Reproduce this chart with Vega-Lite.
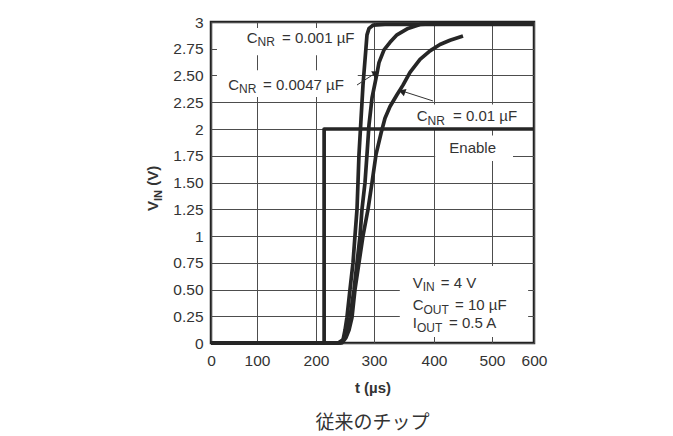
{
  "$schema": "https://vega.github.io/schema/vega-lite/v6.json",
  "width": 323,
  "height": 321,
  "autosize": {"type": "none"},
  "padding": {"left": 211, "top": 22, "right": 139, "bottom": 93},
  "background": "white",
  "config": {
    "font": "Liberation Sans",
    "view": {"stroke": "#222", "strokeWidth": 2.5},
    "axis": {
      "domain": false, "ticks": false, "tickSize": 0, "grid": true,
      "gridColor": "#4d4d4d", "gridWidth": 1, "gridOpacity": 1, "labelOverlap": false,
      "labelFont": "Liberation Sans", "labelFontSize": 15.5, "labelColor": "#333",
      "titleFont": "Liberation Sans", "titleFontSize": 15, "titleColor": "#333", "titleFontWeight": "bold"
    }
  },
  "title": {"text": "従来のチップ", "orient": "bottom", "anchor": "middle", "frame": "group", "font": "Noto Sans CJK JP", "fontSize": 19, "fontWeight": "normal", "color": "#333", "offset": 18},
  "encoding": {
    "x": {"field": "t", "type": "quantitative",
          "scale": {"domain": [0, 100, 200, 300, 400, 500, 600], "range": [0, 46, 105, 163, 223, 281, 323], "nice": false, "zero": false},
          "axis": {"values": [0, 100, 200, 300, 400, 500, 600], "title": "t (µs)", "labelPadding": 10, "titlePadding": 12, "labelFlush": false}},
    "y": {"field": "v", "type": "quantitative",
          "scale": {"domain": [0, 3], "nice": false, "zero": false},
          "axis": {"values": [0, 0.25, 0.5, 0.75, 1, 1.25, 1.5, 1.75, 2, 2.25, 2.5, 2.75, 3], "title": null, "labelPadding": 8,
                   "labelExpr": "datum.value % 1 == 0 ? format(datum.value, 'd') : format(datum.value, '.2f')"}}
  },
  "datasets": {
    "boxes": [
      {"t": 13, "t2": 284, "v": 2.69, "v2": 2.944},
      {"t": 13, "t2": 272, "v": 2.30, "v2": 2.55},
      {"t": 352, "t2": 586, "v": 2.01, "v2": 2.23},
      {"t": 402, "t2": 550, "v": 1.70, "v2": 1.94},
      {"t": 343, "t2": 586, "v": 0.056, "v2": 0.72}
    ],
    "lines": [
      {"series": "Enable", "i": 0, "t": 0, "v": 0},
      {"series": "Enable", "i": 1, "t": 214, "v": 0},
      {"series": "Enable", "i": 2, "t": 214, "v": 2},
      {"series": "Enable", "i": 3, "t": 600, "v": 2},
      {"series": "0.001", "i": 0, "t": 0, "v": 0},
      {"series": "0.001", "i": 1, "t": 237.9, "v": 0},
      {"series": "0.001", "i": 2, "t": 246.6, "v": 0.03},
      {"series": "0.001", "i": 3, "t": 250, "v": 0.12},
      {"series": "0.001", "i": 4, "t": 253.4, "v": 0.24},
      {"series": "0.001", "i": 5, "t": 258.6, "v": 0.5},
      {"series": "0.001", "i": 6, "t": 263.8, "v": 0.75},
      {"series": "0.001", "i": 7, "t": 267.2, "v": 1.0},
      {"series": "0.001", "i": 8, "t": 270.7, "v": 1.25},
      {"series": "0.001", "i": 9, "t": 272.4, "v": 1.5},
      {"series": "0.001", "i": 10, "t": 274.1, "v": 1.76},
      {"series": "0.001", "i": 11, "t": 277.6, "v": 2.09},
      {"series": "0.001", "i": 12, "t": 281.0, "v": 2.41},
      {"series": "0.001", "i": 13, "t": 286.2, "v": 2.76},
      {"series": "0.001", "i": 14, "t": 287.9, "v": 2.88},
      {"series": "0.001", "i": 15, "t": 291.4, "v": 2.94},
      {"series": "0.001", "i": 16, "t": 298.3, "v": 2.97},
      {"series": "0.001", "i": 17, "t": 318.3, "v": 2.977},
      {"series": "0.001", "i": 18, "t": 600, "v": 2.977},
      {"series": "0.0047", "i": 0, "t": 0, "v": 0},
      {"series": "0.0047", "i": 1, "t": 241.4, "v": 0},
      {"series": "0.0047", "i": 2, "t": 250, "v": 0.05},
      {"series": "0.0047", "i": 3, "t": 258.6, "v": 0.24},
      {"series": "0.0047", "i": 4, "t": 265.5, "v": 0.5},
      {"series": "0.0047", "i": 5, "t": 270.7, "v": 0.75},
      {"series": "0.0047", "i": 6, "t": 275.9, "v": 1.0},
      {"series": "0.0047", "i": 7, "t": 279.3, "v": 1.25},
      {"series": "0.0047", "i": 8, "t": 284.5, "v": 1.5},
      {"series": "0.0047", "i": 9, "t": 287.9, "v": 1.76},
      {"series": "0.0047", "i": 10, "t": 291.4, "v": 2.04},
      {"series": "0.0047", "i": 11, "t": 296.6, "v": 2.29},
      {"series": "0.0047", "i": 12, "t": 305, "v": 2.52},
      {"series": "0.0047", "i": 13, "t": 308.3, "v": 2.62},
      {"series": "0.0047", "i": 14, "t": 316.7, "v": 2.74},
      {"series": "0.0047", "i": 15, "t": 326.7, "v": 2.81},
      {"series": "0.0047", "i": 16, "t": 338.3, "v": 2.88},
      {"series": "0.0047", "i": 17, "t": 356.7, "v": 2.94},
      {"series": "0.0047", "i": 18, "t": 376.7, "v": 2.977},
      {"series": "0.0047", "i": 19, "t": 410.3, "v": 2.986},
      {"series": "0.0047", "i": 20, "t": 600, "v": 2.986},
      {"series": "0.01", "i": 0, "t": 0, "v": 0},
      {"series": "0.01", "i": 1, "t": 244.8, "v": 0},
      {"series": "0.01", "i": 2, "t": 251.7, "v": 0.05},
      {"series": "0.01", "i": 3, "t": 256.9, "v": 0.12},
      {"series": "0.01", "i": 4, "t": 262.1, "v": 0.24},
      {"series": "0.01", "i": 5, "t": 267.2, "v": 0.5},
      {"series": "0.01", "i": 6, "t": 274.1, "v": 0.75},
      {"series": "0.01", "i": 7, "t": 281.0, "v": 1.0},
      {"series": "0.01", "i": 8, "t": 289.7, "v": 1.25},
      {"series": "0.01", "i": 9, "t": 296.6, "v": 1.5},
      {"series": "0.01", "i": 10, "t": 303.3, "v": 1.76},
      {"series": "0.01", "i": 11, "t": 311.7, "v": 1.96},
      {"series": "0.01", "i": 12, "t": 318.3, "v": 2.10},
      {"series": "0.01", "i": 13, "t": 326.7, "v": 2.21},
      {"series": "0.01", "i": 14, "t": 338.3, "v": 2.32},
      {"series": "0.01", "i": 15, "t": 348.3, "v": 2.41},
      {"series": "0.01", "i": 16, "t": 360, "v": 2.53},
      {"series": "0.01", "i": 17, "t": 376.7, "v": 2.65},
      {"series": "0.01", "i": 18, "t": 393.3, "v": 2.73},
      {"series": "0.01", "i": 19, "t": 410.3, "v": 2.79},
      {"series": "0.01", "i": 20, "t": 427.6, "v": 2.83},
      {"series": "0.01", "i": 21, "t": 450, "v": 2.87}
    ],
    "arrows": [
      {"series": "a1", "i": 0, "t": 270.7, "v": 2.411},
      {"series": "a1", "i": 1, "t": 300, "v": 2.514},
      {"series": "a2", "i": 0, "t": 398.3, "v": 2.262},
      {"series": "a2", "i": 1, "t": 351.7, "v": 2.346}
    ],
    "textMain": [
      {"t": 77.6, "v": 2.808, "s": "C"},
      {"t": 142.4, "v": 2.808, "s": "= 0.001 µF"},
      {"t": 37.6, "v": 2.367, "s": "C"},
      {"t": 110.2, "v": 2.367, "s": "= 0.0047 µF"},
      {"t": 371.2, "v": 2.075, "s": "C"},
      {"t": 432.8, "v": 2.075, "s": "= 0.01 µF"},
      {"t": 426.4, "v": 1.778, "s": "Enable"},
      {"t": 364.5, "v": 0.517, "s": "V"},
      {"t": 411.6, "v": 0.517, "s": "= 4 V"},
      {"t": 364.5, "v": 0.308, "s": "C"},
      {"t": 436.2, "v": 0.308, "s": "= 10 µF"},
      {"t": 364.5, "v": 0.137, "s": "I"},
      {"t": 425.9, "v": 0.137, "s": "= 0.5 A"}
    ],
    "textSub": [
      {"t": 100.8, "v": 2.775, "s": "NR"},
      {"t": 61.1, "v": 2.334, "s": "NR"},
      {"t": 389.2, "v": 2.042, "s": "NR"},
      {"t": 381.2, "v": 0.484, "s": "IN"},
      {"t": 382.5, "v": 0.275, "s": "OUT"},
      {"t": 371.5, "v": 0.104, "s": "OUT"}
    ],
    "titleMain": [
      {"t": -115.2, "v": 1.234, "s": "V"},
      {"t": -115.2, "v": 1.469, "s": "(V)"}
    ],
    "titleSub": [
      {"t": -107.6, "v": 1.327, "s": "IN"}
    ]
  },
  "layer": [
    {
      "data": {"name": "boxes"},
      "mark": {"type": "rect", "fill": "white", "stroke": null},
      "encoding": {
        "x2": {"field": "t2"},
        "y2": {"field": "v2"}
      }
    },
    {
      "data": {"name": "lines"},
      "mark": {"type": "line", "stroke": "#262626", "strokeWidth": 3.7, "strokeJoin": "round", "strokeCap": "butt"},
      "encoding": {
        "detail": {"field": "series"},
        "order": {"field": "i", "type": "quantitative"}
      }
    },
    {
      "data": {"name": "arrows"},
      "mark": {"type": "line", "stroke": "#333", "strokeWidth": 1},
      "encoding": {
        "detail": {"field": "series"},
        "order": {"field": "i", "type": "quantitative"}
      }
    },
    {
      "data": {"values": [{"t": 303.3, "v": 2.523}]},
      "mark": {"type": "point", "shape": "triangle-up", "filled": true, "size": 60, "angle": 61, "color": "#222", "opacity": 1},
      "encoding": {}
    },
    {
      "data": {"values": [{"t": 346.7, "v": 2.35}]},
      "mark": {"type": "point", "shape": "triangle-up", "filled": true, "size": 60, "angle": 290, "color": "#222", "opacity": 1},
      "encoding": {}
    },
    {
      "data": {"name": "textMain"},
      "mark": {"type": "text", "align": "left", "baseline": "alphabetic", "fontSize": 15, "color": "#333"},
      "encoding": {"text": {"field": "s"}}
    },
    {
      "data": {"name": "textSub"},
      "mark": {"type": "text", "align": "left", "baseline": "alphabetic", "fontSize": 12, "color": "#333"},
      "encoding": {"text": {"field": "s"}}
    },
    {
      "data": {"name": "titleMain"},
      "mark": {"type": "text", "align": "left", "baseline": "alphabetic", "fontSize": 15, "fontWeight": "bold", "angle": 270, "color": "#333"},
      "encoding": {"text": {"field": "s"}}
    },
    {
      "data": {"name": "titleSub"},
      "mark": {"type": "text", "align": "left", "baseline": "alphabetic", "fontSize": 11, "fontWeight": "bold", "angle": 270, "color": "#333"},
      "encoding": {"text": {"field": "s"}}
    }
  ]
}
